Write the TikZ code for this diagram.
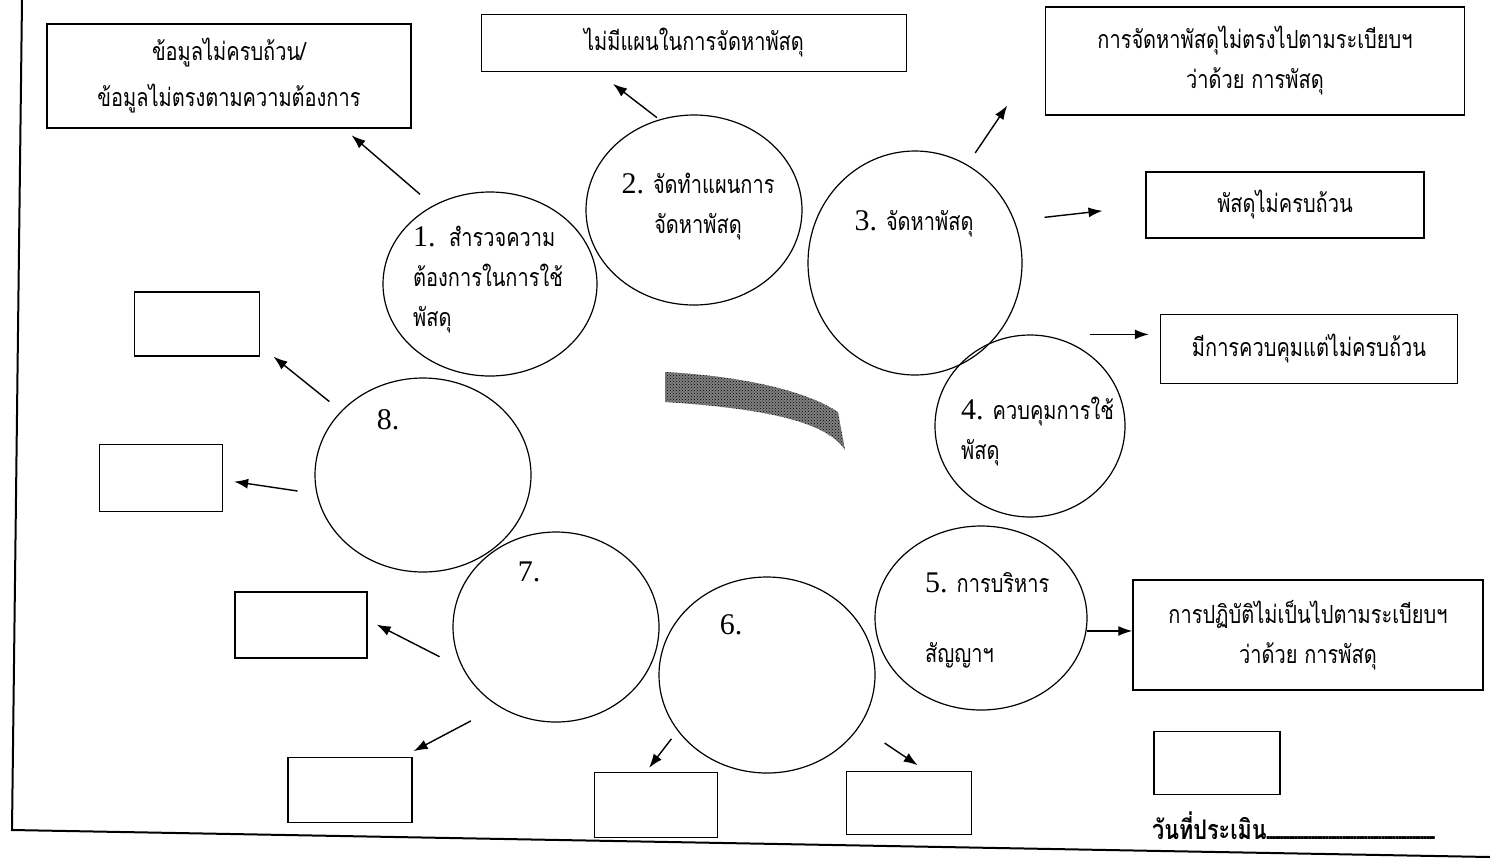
\documentclass[tikz,border=0pt]{standalone}
\usepackage{fontspec}
\setmainfont{Liberation Serif}
\newfontfamily\thaifont[Script=Thai,FakeStretch=0.8]{Loma}
\usetikzlibrary{shapes.geometric,arrows.meta,patterns}
\newcommand\dg[1]{{\rmfamily\fontsize{30}{40}\selectfont #1}}
\begin{document}
\begin{tikzpicture}[x=1pt,y=-1pt,
  ring/.style={draw,ellipse,line width=1.2pt,inner sep=0pt},
  txtbox/.style={draw,line width=1.5pt,inner sep=0pt,align=center,
    font=\thaifont\fontsize{25}{40}\selectfont},
  blankbox/.style={draw,line width=1.5pt,inner sep=0pt},
  lbl/.style={inner sep=0pt,font=\thaifont\fontsize{25}{40}\selectfont},
  num/.style={inner sep=0pt,font=\fontsize{30}{36}\selectfont},
  arr/.style={-{Latex[length=14pt,width=10pt]},line width=1.4pt}]
\useasboundingbox (0,0) rectangle (1490,863);
% frame
\draw[line width=2pt] (22,0) -- (12,830) -- (1490,857);
% circles of the cycle
\node[ring,minimum width=214pt,minimum height=184pt] (c1) at (490,284) {};
\node[ring,minimum width=216pt,minimum height=190pt] (c2) at (694,210) {};
\node[ring,minimum width=214pt,minimum height=224pt] (c3) at (915,263) {};
\node[ring,minimum width=190pt,minimum height=182pt] (c4) at (1030,426) {};
\node[ring,minimum width=212pt,minimum height=184pt] (c5) at (981,618) {};
\node[ring,minimum width=216pt,minimum height=196pt] (c6) at (767,675) {};
\node[ring,minimum width=206pt,minimum height=190pt] (c7) at (556,627) {};
\node[ring,minimum width=216pt,minimum height=194pt] (c8) at (423,475) {};
\node[lbl,anchor=west,align=left] (c1t) at (413,280) {\dg{1.}\ \ สำรวจความ\\ต้องการในการใช้\\พัสดุ};
\node[lbl,align=center] (c2t) at (698,207) {\dg{2.} จัดทำแผนการ\\จัดหาพัสดุ};
\node[lbl] (c3t) at (914,224) {\dg{3.} จัดหาพัสดุ};
\node[lbl,anchor=west,align=left] (c4t) at (961,432) {\dg{4.} ควบคุมการใช้\\พัสดุ};
\node[lbl,anchor=west,align=left] (c5t) at (925,620) {\dg{5.} การบริหาร\\[30pt]สัญญาฯ};
\node[num] (c6t) at (731,625) {6.};
\node[num] (c7t) at (529,572) {7.};
\node[num] (c8t) at (388,420) {8.};
% centre mark
\fill[black!50] (665,372) .. controls (740,376) and (805,390) .. (838,412)
  -- (845,450) .. controls (830,428) and (790,410) .. (665,402) -- cycle;
\fill[pattern=crosshatch dots] (665,372) .. controls (740,376) and (805,390) .. (838,412)
  -- (845,450) .. controls (830,428) and (790,410) .. (665,402) -- cycle;
% problem boxes
\node[txtbox,minimum width=364pt,minimum height=104pt,font=\thaifont\fontsize{25}{46}\selectfont] (b1) at (229,76) {ข้อมูลไม่ครบถ้วน/\\ข้อมูลไม่ตรงตามความต้องการ};
\node[txtbox,minimum width=425pt,minimum height=57pt] (b2) at (694,43) {ไม่มีแผนในการจัดหาพัสดุ};
\node[txtbox,minimum width=419pt,minimum height=108pt] (b3) at (1255,61) {การจัดหาพัสดุไม่ตรงไปตามระเบียบฯ\\ว่าด้วย การพัสดุ};
\node[txtbox,minimum width=278pt,minimum height=66pt] (b4) at (1285,205) {พัสดุไม่ครบถ้วน};
\node[txtbox,minimum width=297pt,minimum height=69pt] (b5) at (1309,349) {มีการควบคุมแต่ไม่ครบถ้วน};
\node[txtbox,minimum width=350pt,minimum height=110pt] (b6) at (1308,635) {การปฏิบัติไม่เป็นไปตามระเบียบฯ\\ว่าด้วย การพัสดุ};
% empty boxes
\node[blankbox,minimum width=125pt,minimum height=64pt] (e1) at (197,324) {};
\node[blankbox,minimum width=123pt,minimum height=67pt] (e2) at (161,478) {};
\node[blankbox,minimum width=132pt,minimum height=66pt] (e3) at (301,625) {};
\node[blankbox,minimum width=124pt,minimum height=65pt] (e4) at (350,790) {};
\node[blankbox,minimum width=123pt,minimum height=65pt] (e5) at (656,805) {};
\node[blankbox,minimum width=125pt,minimum height=63pt] (e6) at (909,803) {};
\node[blankbox,minimum width=126pt,minimum height=63pt] (e7) at (1217,763) {};
\node[anchor=west,inner sep=0pt,font=\thaifont\bfseries\fontsize{27}{30}\selectfont] (date) at (1152,826)
  {วันที่ประเมิน\hbox to 170pt{\leaders\hbox to 2.8pt{\hss.\hss}\hfill}};
% arrows
\draw[arr,shorten <=17pt,shorten >=10pt] (c1.126) -- (344,0 |- b1.south);
\draw[arr,shorten <=3pt,shorten >=19pt] (c2.111) -- (598,0 |- b2.south);
\draw[arr,shorten <=14pt,shorten >=67pt] (c3.62) -- (b3.west |- 0,50);
\draw[arr,shorten <=30pt,shorten >=43pt] (c3.23) -- (b4.west |- 0,206);
\draw[arr,shorten >=11pt] (1090,0 |- c4.north) -- (b5.west |- c4.north);
\draw[arr] (c5.-7) -- (c5.-7 -| b6.west);
\draw[arr,shorten <=15pt,shorten >=17pt] (c8.142) -- (e1.east |- 0,346);
\draw[arr,shorten <=19pt,shorten >=11pt] (c8.190) -- (e2.east |- 0,480);
\draw[arr,shorten <=26pt,shorten >=10pt] (c7.204) -- (e3.east |- 0,620);
\draw[arr,shorten <=31pt,shorten >=12pt] (c7.234) -- (403,0 |- e4.north);
\draw[arr,shorten <=10pt,shorten >=5pt] (c6.212) -- (646,0 |- e5.north);
\draw[arr,shorten <=30pt,shorten >=10pt] (c6.-29) -- (926,0 |- e6.north);
\end{tikzpicture}
\end{document}
